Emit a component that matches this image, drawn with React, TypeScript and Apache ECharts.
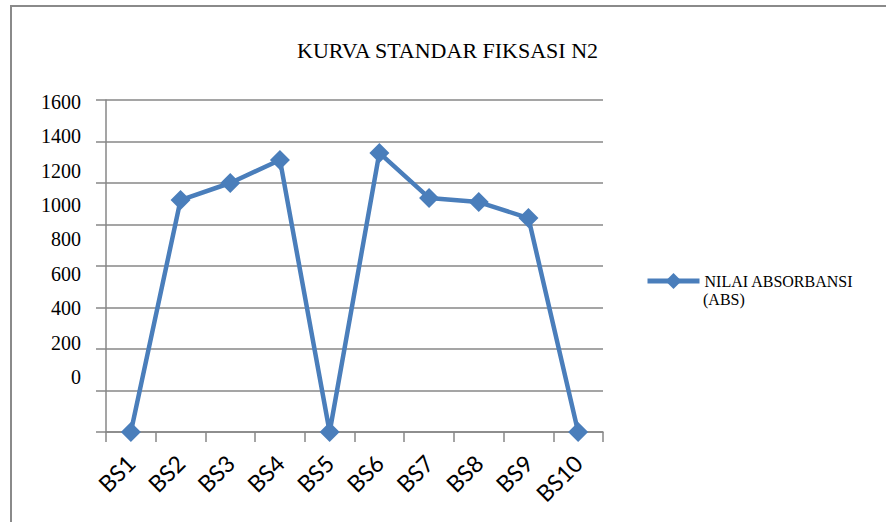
import React, { useEffect, useRef } from "react";
import * as echarts from "echarts";

const categories = ["BS1", "BS2", "BS3", "BS4", "BS5", "BS6", "BS7", "BS8", "BS9", "BS10"];
const absValues = [0, 1118, 1200, 1311, 0, 1345, 1128, 1108, 1031, 0];
const yTickLabels = [0, 200, 400, 600, 800, 1000, 1200, 1400, 1600];
const seriesName = "NILAI ABSORBANSI (ABS)";
const legendLine1 = "NILAI ABSORBANSI";
const legendLine2 = "(ABS)";
const titleText = "KURVA STANDAR FIKSASI N2";

const BLUE = "#4A7EBB";
const GRAY = "#878787";
const SERIF = "Liberation Serif";
const SANS = "Lato";

export default function App() {
  const ref = useRef<HTMLDivElement>(null);
  useEffect(() => {
    if (!ref.current) return;
    const chart = echarts.init(ref.current, undefined, { renderer: "svg" });
    chart.setOption({
      animation: false,
      backgroundColor: "#ffffff",
      title: {
        text: titleText,
        left: 297,
        top: 39,
        padding: 0,
        textStyle: { fontFamily: SERIF, fontSize: 22, fontWeight: "normal", color: "#000" },
      },
      legend: {
        data: [seriesName],
        left: 645,
        top: 273,
        padding: 0,
        itemWidth: 52,
        itemHeight: 20,
        itemGap: 6,
        formatter: () => legendLine1,
        lineStyle: { width: 5, color: BLUE },
        textStyle: { fontFamily: SERIF, fontSize: 16, color: "#000" },
      },
      graphic: [
        {
          type: "rect",
          silent: true,
          shape: { x: 11, y: 6, width: 1200, height: 1200 },
          style: { fill: "none", stroke: "#8a8a8a", lineWidth: 2 },
        },
        {
          type: "text",
          silent: true,
          style: {
            text: legendLine2,
            x: 703,
            y: 299,
            verticalAlign: "middle",
            fontFamily: SERIF,
            fontSize: 16,
            fill: "#000",
          },
        },
      ],
      grid: { left: 106, right: 283, top: 100, bottom: 90, containLabel: false },
      xAxis: {
        type: "category",
        data: categories,
        boundaryGap: true,
        axisLine: { show: true, lineStyle: { color: GRAY, width: 1.5 } },
        axisTick: { show: true, length: 10, lineStyle: { color: GRAY, width: 1.5 } },
        axisLabel: {
          rotate: 45,
          margin: 27,
          fontFamily: SANS,
          fontSize: 23,
          color: "#000",
        },
      },
      yAxis: [
        {
          type: "value",
          min: 0,
          max: 1600,
          interval: 200,
          axisLine: { show: true, lineStyle: { color: GRAY, width: 1.5 } },
          axisTick: { show: true, length: 10, lineStyle: { color: GRAY, width: 1.5 } },
          axisLabel: { show: false },
          splitLine: { show: true, lineStyle: { color: GRAY, width: 1.5 } },
        },
        {
          type: "value",
          position: "left",
          min: -320,
          max: 1611.6,
          axisLine: { show: false },
          axisTick: { show: false },
          splitLine: { show: false },
          axisLabel: {
            customValues: yTickLabels,
            formatter: (v: number) => String(v),
            margin: 25,
            fontFamily: SERIF,
            fontSize: 20,
            color: "#000",
          },
        },
      ],
      series: [
        {
          name: seriesName,
          type: "line",
          yAxisIndex: 0,
          data: absValues,
          symbol: "diamond",
          symbolSize: 20,
          lineStyle: { color: BLUE, width: 4.5 },
          itemStyle: { color: BLUE },
        },
      ],
    });
    return () => chart.dispose();
  }, []);
  return (
    <div
      ref={ref}
      style={{ position: "fixed", left: 0, top: 0, width: 886, height: 522, background: "#fff" }}
    />
  );
}
